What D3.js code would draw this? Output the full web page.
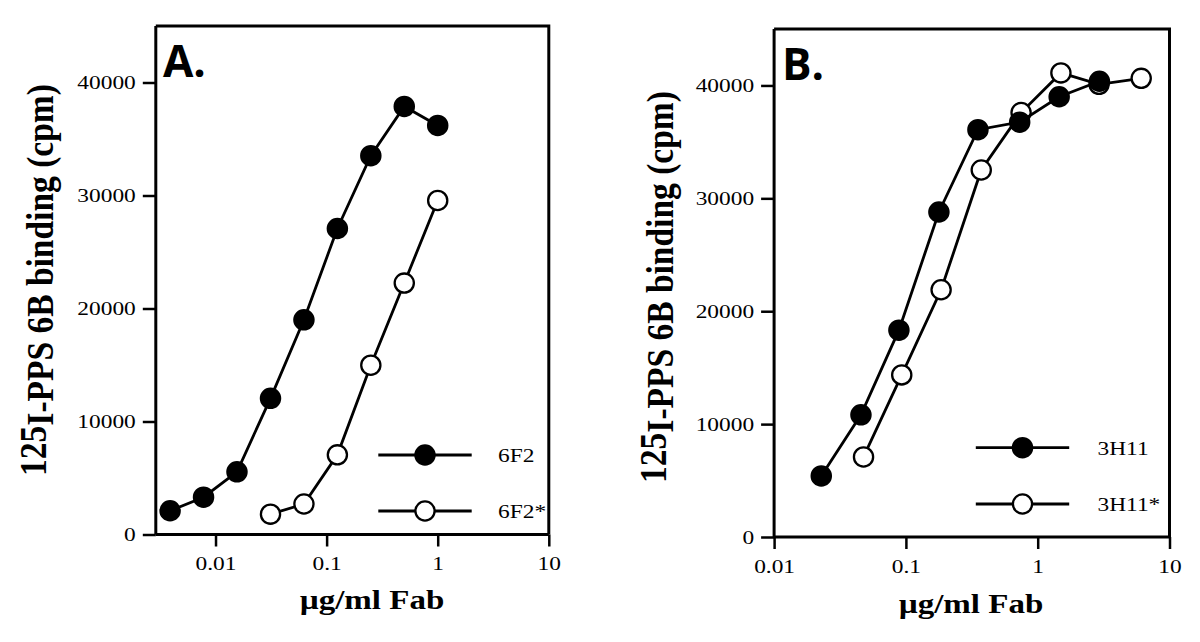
<!DOCTYPE html>
<html><head><meta charset="utf-8">
<script src="https://cdn.jsdelivr.net/npm/d3@7"></script>
<style>body{margin:0;background:#fff}svg{display:block}</style>
</head><body>
<svg id="chart" width="1200" height="642"></svg>
<script>
// ---------- data ----------
const xTicks = [0.01, 0.1, 1, 10];
const xTickLabels = ["0.01", "0.1", "1", "10"];
const yTicks = [0, 10000, 20000, 30000, 40000];

const a_6F2_x = [0.0039, 0.0078, 0.0156, 0.03125, 0.0625, 0.125, 0.25, 0.5, 1];
const a_6F2_y = [2100, 3300, 5550, 12050, 19000, 27080, 33520, 37880, 36200];
const a_6F2s_x = [0.03125, 0.0625, 0.125, 0.25, 0.5, 1];
const a_6F2s_y = [1800, 2700, 7050, 14980, 22250, 29560];

const b_3H11_x = [0.0228, 0.0456, 0.0885, 0.178, 0.352, 0.73, 1.455, 2.94];
const b_3H11_y = [5410, 10820, 18320, 28790, 36080, 36750, 39000, 40370];
const b_3H11s_x = [0.0477, 0.093, 0.185, 0.373, 0.748, 1.5, 2.92, 6.1];
const b_3H11s_y = [7090, 14360, 21900, 32510, 37600, 41110, 40100, 40630];

const yMax = 45000;
const serif = "'Liberation Serif','Times New Roman',serif";
const SX = 1.2; // horizontal stretch of serif text

const svg = d3.select("#chart");

function panel(cfg) {
  const g = svg.append("g");
  const x = d3.scaleLog().domain(cfg.xDomain).range([cfg.left, cfg.right]);
  const y = d3.scaleLinear().domain([0, yMax]).range([cfg.bottom, cfg.top]);

  // frame (top & right)
  g.append("path")
    .attr("d", `M${cfg.left},${cfg.top}H${cfg.right}V${cfg.bottom}`)
    .attr("fill", "none").attr("stroke", "#000").attr("stroke-width", 3);

  const yAxis = g.append("g").attr("transform", `translate(${cfg.left},0)`)
    .call(d3.axisLeft(y).tickValues(yTicks).tickSize(13).tickPadding(7).tickFormat(d3.format("d")));
  const xAxis = g.append("g").attr("transform", `translate(0,${cfg.bottom})`)
    .call(d3.axisBottom(x).tickValues(xTicks).tickSize(12).tickPadding(10)
      .tickFormat((d, i) => xTickLabels[i]));

  [yAxis, xAxis].forEach(ax => {
    ax.select(".domain").attr("stroke-width", 3).attr("d", function() {
      return ax === yAxis ? `M0,${cfg.bottom}V${cfg.top}` : `M${cfg.left},0H${cfg.right}`;
    });
    ax.selectAll(".tick line").attr("stroke-width", 2.5);
    ax.selectAll(".tick text").each(function() {
      const t = d3.select(this);
      const tx = +t.attr("x") || 0, ty = +t.attr("y") || 0;
      t.attr("x", 0).attr("y", 0)
       .attr("transform", `translate(${tx},${ty}) scale(${SX},1)`)
       .attr("font-family", serif).attr("font-size", 19.5).attr("fill", "#000");
    });
  });

  // series
  cfg.series.forEach(s => {
    const pts = s.x.map((v, i) => [v, s.y[i]]);
    g.append("path").datum(pts)
      .attr("d", d3.line().x(d => x(d[0])).y(d => y(d[1])))
      .attr("fill", "none").attr("stroke", "#000").attr("stroke-width", 2.8);
    g.selectAll(null).data(pts).enter().append("circle")
      .attr("cx", d => x(d[0])).attr("cy", d => y(d[1])).attr("r", 9.6)
      .attr("fill", s.filled ? "#000" : "#fff").attr("stroke", "#000").attr("stroke-width", 2.3);
  });

  // legend
  cfg.legend.forEach(l => {
    g.append("line").attr("x1", l.x1).attr("x2", l.x2).attr("y1", l.y).attr("y2", l.y)
      .attr("stroke", "#000").attr("stroke-width", 2.8);
    g.append("circle").attr("cx", (l.x1 + l.x2) / 2).attr("cy", l.y).attr("r", 9.6)
      .attr("fill", l.filled ? "#000" : "#fff").attr("stroke", "#000").attr("stroke-width", 2.3);
    g.append("text").attr("transform", `translate(${l.tx},${l.y + 7}) scale(${SX},1)`)
      .attr("font-family", serif).attr("font-size", 19.5).text(l.label);
  });

  // panel letter
  g.append("text").attr("x", cfg.letterX).attr("y", cfg.letterY)
    .attr("font-family", "'Open Sans',sans-serif").attr("font-weight", "bold")
    .attr("font-size", 44).text(cfg.letter);

  // x title
  g.append("text").attr("transform", `translate(${cfg.xtX},${cfg.xtY}) scale(1.18,1)`)
    .attr("text-anchor", "middle").attr("font-family", serif).attr("font-weight", "bold")
    .attr("font-size", 28).text("µg/ml Fab");

  // y title
  const yt = g.append("text").attr("transform", `translate(${cfg.ytX},${cfg.ytY}) rotate(-90) scale(1,1.15)`)
    .attr("text-anchor", "middle").attr("font-family", serif).attr("font-weight", "bold")
    .attr("font-size", 33.5);
  yt.append("tspan").attr("dy", -6).text("125");
  yt.append("tspan").attr("dy", 6).text("I-PPS 6B binding (cpm)");
}

panel({
  left: 155.8, right: 548.8, top: 26, bottom: 534.5, xDomain: [0.0029, 10],
  series: [
    {x: a_6F2_x, y: a_6F2_y, filled: true},
    {x: a_6F2s_x, y: a_6F2s_y, filled: false}
  ],
  legend: [
    {x1: 378.3, x2: 471.7, y: 455, filled: true, label: "6F2", tx: 498},
    {x1: 378.3, x2: 471.7, y: 511, filled: false, label: "6F2*", tx: 498}
  ],
  letter: "A.", letterX: 163, letterY: 77,
  xtX: 372, xtY: 609, ytX: 53, ytY: 280
});

panel({
  left: 774.1, right: 1169.5, top: 29, bottom: 537, xDomain: [0.01, 10],
  series: [
    {x: b_3H11s_x, y: b_3H11s_y, filled: false},
    {x: b_3H11_x, y: b_3H11_y, filled: true}
  ],
  legend: [
    {x1: 975.8, x2: 1069.2, y: 447.7, filled: true, label: "3H11", tx: 1097.5},
    {x1: 975.8, x2: 1069.2, y: 504, filled: false, label: "3H11*", tx: 1097.5}
  ],
  letter: "B.", letterX: 782, letterY: 80,
  xtX: 971, xtY: 612.7, ytX: 673, ytY: 287
});
</script>
</body></html>
